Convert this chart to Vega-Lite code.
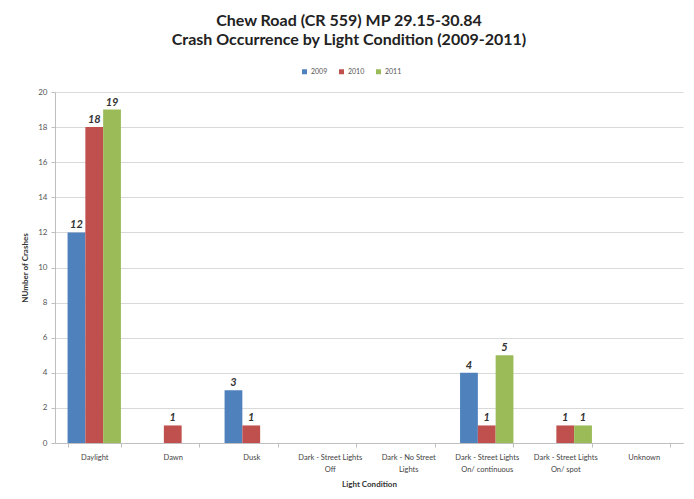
{
  "$schema": "https://vega.github.io/schema/vega-lite/v6.json",
  "width": 628,
  "height": 351,
  "autosize": {"type": "none"},
  "padding": {"left": 55, "top": 92, "right": 11, "bottom": 56},
  "background": "white",
  "config": {
    "font": "Lato",
    "view": {"stroke": null}
  },
  "title": {
    "text": ["Chew Road (CR 559) MP 29.15-30.84", "Crash Occurrence by Light Condition (2009-2011)"],
    "fontSize": 16,
    "fontWeight": "bold",
    "color": "#222222",
    "anchor": "middle",
    "dx": -20,
    "offset": 20,
    "lineHeight": 19
  },
  "data": {
    "values": [
      {"condition": "Daylight", "year": "2009", "crashes": 12},
      {"condition": "Daylight", "year": "2010", "crashes": 18},
      {"condition": "Daylight", "year": "2011", "crashes": 19},
      {"condition": "Dawn", "year": "2010", "crashes": 1},
      {"condition": "Dusk", "year": "2009", "crashes": 3},
      {"condition": "Dusk", "year": "2010", "crashes": 1},
      {"condition": "Dark - Street Lights On/ continuous", "year": "2009", "crashes": 4},
      {"condition": "Dark - Street Lights On/ continuous", "year": "2010", "crashes": 1},
      {"condition": "Dark - Street Lights On/ continuous", "year": "2011", "crashes": 5},
      {"condition": "Dark - Street Lights On/ spot", "year": "2010", "crashes": 1},
      {"condition": "Dark - Street Lights On/ spot", "year": "2011", "crashes": 1}
    ]
  },
  "encoding": {
    "x": {
      "field": "condition",
      "type": "nominal",
      "sort": null,
      "scale": {
        "domain": ["Daylight", "Dawn", "Dusk", "Dark - Street Lights Off", "Dark - No Street Lights", "Dark - Street Lights On/ continuous", "Dark - Street Lights On/ spot", "Unknown"],
        "paddingInner": 0.32,
        "paddingOuter": 0.16
      },
      "axis": {
        "title": "Light Condition",
        "titleFontSize": 8,
        "titleFontWeight": "bold",
        "titleColor": "#333333",
        "titlePadding": 8,
        "labelAngle": 0,
        "labelFontSize": 7.5,
        "labelColor": "#444444",
        "labelPadding": 6,
        "labelLineHeight": 12,
        "tickBand": "extent",
        "tickSize": 4,
        "tickColor": "#bfbfbf",
        "domainColor": "#bfbfbf",
        "labelExpr": "datum.label == 'Dark - Street Lights Off' ? ['Dark - Street Lights', 'Off'] : datum.label == 'Dark - No Street Lights' ? ['Dark - No Street', 'Lights'] : datum.label == 'Dark - Street Lights On/ continuous' ? ['Dark - Street Lights', 'On/ continuous'] : datum.label == 'Dark - Street Lights On/ spot' ? ['Dark - Street Lights', 'On/ spot'] : datum.label"
      }
    },
    "xOffset": {
      "field": "year",
      "type": "nominal",
      "scale": {"domain": ["2009", "2010", "2011"], "paddingInner": 0, "paddingOuter": 0}
    },
    "y": {
      "field": "crashes",
      "type": "quantitative",
      "scale": {"domain": [0, 20]},
      "axis": {
        "title": "NUmber of Crashes",
        "titleFontSize": 8,
        "titleFontWeight": "bold",
        "titleColor": "#333333",
        "titlePadding": 8,
        "values": [0, 2, 4, 6, 8, 10, 12, 14, 16, 18, 20],
        "labelFontSize": 8,
        "labelColor": "#555555",
        "labelPadding": 4,
        "tickSize": 4,
        "tickColor": "#bfbfbf",
        "domainColor": "#bfbfbf",
        "gridColor": "#d9d9d9"
      }
    }
  },
  "layer": [
    {
      "mark": {"type": "bar"},
      "encoding": {
        "color": {
          "field": "year",
          "type": "nominal",
          "scale": {"domain": ["2009", "2010", "2011"], "range": ["#4F81BD", "#C0504D", "#9BBB59"]},
          "legend": {
            "title": null,
            "orient": "none",
            "direction": "horizontal",
            "legendX": 246,
            "legendY": -24,
            "symbolType": "square",
            "symbolSize": 25,
            "symbolStrokeWidth": 0,
            "labelFontSize": 7,
            "labelColor": "#555555",
            "columnPadding": 10,
            "labelOffset": 3
          }
        }
      }
    },
    {
      "mark": {"type": "text", "dy": -7, "fontSize": 11, "fontWeight": "bold", "fontStyle": "italic", "color": "#333333"},
      "encoding": {
        "text": {"field": "crashes", "type": "quantitative"}
      }
    }
  ]
}
